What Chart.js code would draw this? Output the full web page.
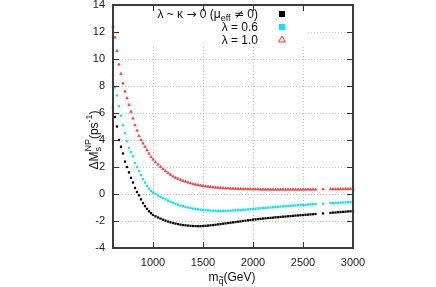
<!DOCTYPE html>
<html>
<head>
<meta charset="utf-8">
<script src="https://cdn.jsdelivr.net/npm/chart.js@4/dist/chart.umd.min.js"></script>
<style>
  html, body { margin: 0; padding: 0; background: #fff; }
  #wrap { width: 436px; height: 287px; }
</style>
</head>
<body>
<div id="wrap"><canvas id="myChart" width="436" height="287"></canvas></div>
<script>
// squark mass grid (GeV)
const masses = [
  600, 620, 640, 660, 680, 700, 720, 740, 760, 780, 800, 820, 840, 860, 880, 900, 920, 940, 960, 980, 1000,
  1025, 1050, 1075, 1100, 1125, 1150, 1175, 1200,
  1225, 1250, 1275, 1300, 1325, 1350, 1375, 1400,
  1425, 1450, 1475, 1500, 1525, 1550, 1575, 1600,
  1625, 1650, 1675, 1700, 1725, 1750, 1775, 1800,
  1825, 1850, 1875, 1900, 1925, 1950, 1975, 2000,
  2025, 2050, 2075, 2100, 2125, 2150, 2175, 2200,
  2225, 2250, 2275, 2300, 2325, 2350, 2375, 2400,
  2425, 2450, 2475, 2500, 2525, 2550, 2575, 2600,
  2625, 2650, 2675, 2700, 2725, 2750, 2775, 2800,
  2825, 2850, 2875, 2900, 2925, 2950, 2975, 3000
];

// lambda ~ kappa -> 0 (mu_eff != 0)
const dmKappa0 = [
  6.4, 5.7, 5.0, 4.0, 3.5, 3.0, 2.4, 2.0, 1.6, 1.2, 0.85, 0.45, 0.15, -0.1, -0.4, -0.67, -0.9, -1.1, -1.28, -1.42, -1.55,
  -1.65, -1.74, -1.82, -1.90, -1.97, -2.04, -2.10, -2.15,
  -2.19, -2.23, -2.27, -2.30, -2.32, -2.34, -2.36, -2.37,
  -2.38, -2.38, -2.38, -2.37, -2.36, -2.34, -2.32, -2.30,
  -2.28, -2.25, -2.23, -2.20, -2.18, -2.15, -2.13, -2.10,
  -2.08, -2.05, -2.03, -2.00, -1.98, -1.95, -1.93, -1.90,
  -1.88, -1.86, -1.84, -1.82, -1.80, -1.78, -1.77, -1.75,
  -1.73, -1.72, -1.70, -1.68, -1.67, -1.65, -1.64, -1.62,
  -1.60, -1.59, -1.57, -1.56, -1.54, -1.53, -1.51, -1.50,
  -1.48, null, null, -1.44, null, null, -1.40, -1.38,
  -1.37, -1.35, -1.34, -1.32, -1.31, -1.29, -1.28, -1.27
];

// lambda = 0.6
const dmLam06 = [
  8.8, 7.9, 7.3, 6.5, 5.8, 5.1, 4.5, 3.9, 3.4, 3.1, 2.8, 2.3, 2.0, 1.7, 1.4, 1.1, 0.85, 0.6, 0.4, 0.22, 0.1,
  -0.01, -0.11, -0.21, -0.30, -0.40, -0.49, -0.57, -0.65,
  -0.72, -0.79, -0.85, -0.90, -0.95, -1.00, -1.04, -1.08,
  -1.11, -1.13, -1.16, -1.18, -1.20, -1.21, -1.23, -1.24,
  -1.24, -1.25, -1.25, -1.25, -1.25, -1.24, -1.23, -1.22,
  -1.21, -1.20, -1.19, -1.17, -1.16, -1.14, -1.12, -1.10,
  -1.09, -1.07, -1.06, -1.04, -1.03, -1.01, -1.00, -0.98,
  -0.96, -0.95, -0.93, -0.92, -0.90, -0.89, -0.87, -0.86,
  -0.85, -0.83, -0.82, -0.81, -0.80, -0.78, -0.77, -0.76,
  -0.75, null, null, -0.72, null, null, -0.68, -0.67,
  -0.66, -0.65, -0.64, -0.63, -0.62, -0.61, -0.61, -0.60
];

// lambda = 1.0
const dmLam10 = [
  12.4, 11.6, 10.6, 9.6, 8.9, 8.2, 7.6, 7.1, 6.6, 6.1, 5.6, 5.1, 4.7, 4.3, 4.0, 3.75, 3.5, 3.25, 3.0, 2.75, 2.55,
  2.36, 2.18, 2.01, 1.85, 1.70, 1.56, 1.43, 1.30,
  1.21, 1.13, 1.05, 0.98, 0.92, 0.86, 0.80, 0.75,
  0.71, 0.67, 0.63, 0.60, 0.57, 0.55, 0.52, 0.50,
  0.48, 0.47, 0.45, 0.44, 0.43, 0.42, 0.41, 0.40,
  0.39, 0.38, 0.38, 0.37, 0.37, 0.36, 0.36, 0.35,
  0.35, 0.35, 0.34, 0.34, 0.34, 0.34, 0.33, 0.33,
  0.33, 0.33, 0.33, 0.33, 0.33, 0.33, 0.33, 0.33,
  0.33, 0.33, 0.33, 0.33, 0.34, 0.34, 0.34, 0.34,
  0.34, null, null, 0.35, null, null, 0.36, 0.36,
  0.36, 0.36, 0.37, 0.37, 0.37, 0.37, 0.38, 0.38
];

const xTicks = [1000, 1500, 2000, 2500, 3000];
const yTicks = [-4, -2, 0, 2, 4, 6, 8, 10, 12, 14];

const FONT = '"Liberation Sans", Arial, sans-serif';
const SYMFONT = '"DejaVu Sans", sans-serif';
const CYAN = '#00e8f0';
const RED = '#ff3030';

function toPoints(vals) {
  return masses.map((m, i) => ({ x: m, y: vals[i] }));
}

// text with sub/superscripts: parts = [{t, size, dy, stack, f}]
function setFont(ctx, p) {
  ctx.font = p.size + 'px ' + (p.f || FONT);
}
function runWidth(ctx, parts) {
  let w = 0;
  parts.forEach(p => {
    setFont(ctx, p);
    if (!p.stack) w += ctx.measureText(p.t).width;
  });
  return w;
}
function drawRun(ctx, parts, x, y) {
  parts.forEach(p => {
    setFont(ctx, p);
    ctx.fillText(p.t, x, y + (p.dy || 0));
    if (!p.stack) x += ctx.measureText(p.t).width;
  });
}

const decorPlugin = {
  id: 'decor',
  beforeDatasetsDraw(chart) {
    const ctx = chart.ctx, a = chart.chartArea;
    const xs = chart.scales.x, ys = chart.scales.y;
    ctx.save();
    ctx.strokeStyle = '#c4c4c4';
    ctx.lineWidth = 1;
    ctx.setLineDash([1, 2]);
    xTicks.forEach(v => {
      const px = Math.round(xs.getPixelForValue(v)) + 0.5;
      ctx.beginPath(); ctx.moveTo(px, a.top); ctx.lineTo(px, a.bottom); ctx.stroke();
    });
    yTicks.forEach(v => {
      const py = Math.round(ys.getPixelForValue(v)) + 0.5;
      ctx.beginPath(); ctx.moveTo(a.left, py); ctx.lineTo(a.right, py); ctx.stroke();
    });
    ctx.setLineDash([]);
    // key box hides the grid behind it
    ctx.fillStyle = '#fff';
    ctx.fillRect(a.left + 1, a.top + 1, 307 - a.left, 45 - a.top);
    ctx.restore();
  },
  afterDraw(chart) {
    const ctx = chart.ctx, a = chart.chartArea;
    const xs = chart.scales.x, ys = chart.scales.y;
    ctx.save();

    // frame with inward ticks on all four sides, drawn as filled bars
    const L = Math.round(a.left), R = Math.round(a.right);
    const T = Math.round(a.top), B = Math.round(a.bottom);
    ctx.fillStyle = '#333';
    const tl = 6;
    xTicks.forEach(v => {
      const px = Math.round(xs.getPixelForValue(v));
      ctx.fillRect(px, B - tl, 1, tl);
      ctx.fillRect(px, T, 1, tl);
    });
    yTicks.forEach(v => {
      const py = Math.round(ys.getPixelForValue(v));
      ctx.fillRect(L, py, tl, 1);
      ctx.fillRect(R - tl, py, tl, 1);
    });
    ctx.fillStyle = '#3c3c3c';
    ctx.fillRect(L - 1, T - 1, R - L + 2, 2);
    ctx.fillRect(L - 1, B - 1, R - L + 2, 2);
    ctx.fillRect(L - 1, T - 1, 2, B - T + 2);
    ctx.fillRect(R - 1, T - 1, 2, B - T + 2);

    ctx.fillStyle = '#111';
    ctx.textBaseline = 'alphabetic';

    // key
    const keyRight = 258, rows = [18, 31, 44];
    const k1 = [
      { t: 'λ ~ κ ', size: 12 },
      { t: '→', size: 12, f: SYMFONT },
      { t: ' 0 (μ', size: 12 },
      { t: 'eff', size: 9, dy: 3 },
      { t: ' ', size: 12 },
      { t: '≠', size: 12, f: SYMFONT },
      { t: ' 0)', size: 12 }
    ];
    drawRun(ctx, k1, keyRight - runWidth(ctx, k1), rows[0]);
    const k2 = [{ t: 'λ = 0.6', size: 12 }];
    drawRun(ctx, k2, keyRight - runWidth(ctx, k2), rows[1]);
    const k3 = [{ t: 'λ = 1.0', size: 12 }];
    drawRun(ctx, k3, keyRight - runWidth(ctx, k3), rows[2]);

    ctx.fillStyle = '#000';
    ctx.fillRect(279, 11, 6, 6);
    ctx.fillStyle = CYAN;
    ctx.fillRect(279, 24, 6, 6);
    ctx.strokeStyle = RED;
    ctx.lineWidth = 1;
    ctx.beginPath();
    ctx.moveTo(282, 36); ctx.lineTo(285.5, 42); ctx.lineTo(278.5, 42); ctx.closePath();
    ctx.stroke();

    // x title
    ctx.fillStyle = '#111';
    const xt = [
      { t: 'm', size: 12 },
      { t: 'q', size: 9, dy: 3 },
      { t: '(GeV)', size: 12 }
    ];
    const xw = runWidth(ctx, xt);
    const x0 = 232 - xw / 2;
    drawRun(ctx, xt, x0, 281);
    ctx.font = '12px ' + FONT;
    const mW = ctx.measureText('m').width;
    ctx.font = '9px ' + FONT;
    ctx.fillText('~', x0 + mW, 280);

    // y title
    ctx.translate(98, 140);
    ctx.rotate(-Math.PI / 2);
    const yt = [
      { t: 'ΔM', size: 12 },
      { t: 's', size: 9, dy: 3, stack: true },
      { t: 'NP', size: 9, dy: -7 },
      { t: '(ps', size: 12 },
      { t: '-1', size: 9, dy: -6 },
      { t: ')', size: 12 }
    ];
    const yw = runWidth(ctx, yt);
    drawRun(ctx, yt, -yw / 2, 0);
    ctx.restore();
  }
};

const ctx = document.getElementById('myChart');
const myChart = new Chart(ctx, {
  type: 'scatter',
  data: {
    datasets: [
      {
        label: 'λ ~ κ → 0 (μeff ≠ 0)',
        data: toPoints(dmKappa0),
        pointStyle: 'rect',
        pointRadius: 1.6,
        borderWidth: 0,
        backgroundColor: '#000',
        borderColor: '#000'
      },
      {
        label: 'λ = 0.6',
        data: toPoints(dmLam06),
        pointStyle: 'rect',
        pointRadius: 1.6,
        borderWidth: 0,
        backgroundColor: CYAN,
        borderColor: CYAN
      },
      {
        label: 'λ = 1.0',
        data: toPoints(dmLam10),
        pointStyle: 'triangle',
        pointRadius: 1.5,
        borderWidth: 0.6,
        backgroundColor: RED,
        borderColor: RED
      }
    ]
  },
  options: {
    responsive: false,
    animation: false,
    clip: false,
    layout: { padding: { top: 5, right: 83, left: 0, bottom: 0 } },
    plugins: {
      legend: { display: false },
      tooltip: { enabled: false }
    },
    scales: {
      x: {
        type: 'linear',
        min: 600,
        max: 3000,
        afterBuildTicks: s => { s.ticks = xTicks.map(v => ({ value: v })); },
        afterFit: s => {
          s.height = 39;
          s.paddingLeft = 0; s.paddingRight = 0;
        },
        grid: { display: false, drawTicks: false },
        border: { display: false },
        ticks: {
          padding: 8,
          color: '#222',
          maxRotation: 0,
          callback: v => String(v),
          font: { family: FONT, size: 11 }
        }
      },
      y: {
        min: -4,
        max: 14,
        afterBuildTicks: s => { s.ticks = yTicks.map(v => ({ value: v })); },
        afterFit: s => {
          s.width = 113;
          s.paddingTop = 0; s.paddingBottom = 0;
        },
        grid: { display: false, drawTicks: false },
        border: { display: false },
        ticks: {
          padding: 8,
          color: '#222',
          callback: v => String(v),
          font: { family: FONT, size: 11 }
        }
      }
    }
  },
  plugins: [decorPlugin]
});
</script>
</body>
</html>
